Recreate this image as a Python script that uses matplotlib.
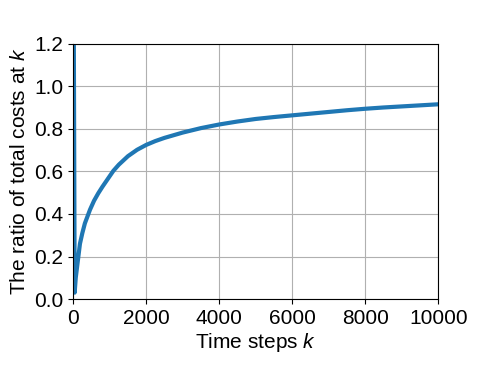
import matplotlib
matplotlib.use('Agg')
import matplotlib.pyplot as plt

plt.rcParams.update({
    'font.family': 'Liberation Sans',
    'font.size': 15,
    'mathtext.fontset': 'custom',
    'mathtext.rm': 'Liberation Sans',
    'mathtext.it': 'Liberation Sans:italic',
})

# time step k and ratio of total costs
steps = [10, 40, 70, 120, 185, 250, 320, 460, 570, 685, 800, 960, 1100, 1250,
         1500, 1750, 2000, 2250, 2500, 3000, 3500, 4000, 4500, 5000, 5500,
         6000, 6500, 7000, 7500, 8000, 8500, 9000, 9500, 10000]
ratio = [1.6, 0.03, 0.10, 0.17, 0.26, 0.31, 0.356, 0.42, 0.462, 0.497, 0.528,
         0.568, 0.603, 0.632, 0.672, 0.702, 0.725, 0.743, 0.758, 0.783,
         0.804, 0.821, 0.835, 0.847, 0.856, 0.864, 0.872, 0.880, 0.888,
         0.895, 0.901, 0.906, 0.911, 0.916]

fig = plt.figure(figsize=(4.88, 3.66), dpi=100)
ax = fig.add_axes([0.150, 0.183, 0.748, 0.697])

ax.plot(steps, ratio, color='#1f77b4', linewidth=3.0)

ax.set_xlim(0, 10000)
ax.set_ylim(0, 1.2)
ax.set_xticks([0, 2000, 4000, 6000, 8000, 10000])
ax.set_yticks([0.0, 0.2, 0.4, 0.6, 0.8, 1.0, 1.2])
ax.grid(True)
ax.set_xlabel('Time steps $k$', labelpad=2)
ax.set_ylabel('The ratio of total costs at $k$', labelpad=4)

plt.savefig('out.png', dpi=100)
plt.close()
